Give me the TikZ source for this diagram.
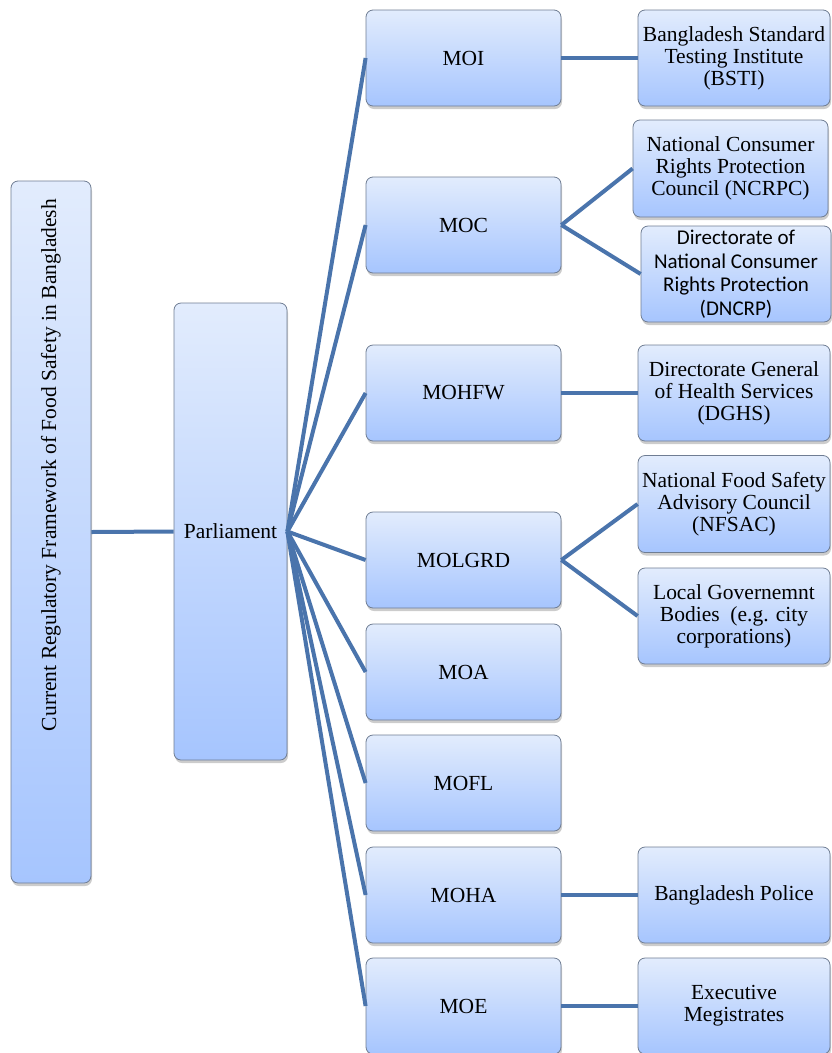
\documentclass[tikz,border=0pt]{standalone}
\usepackage{fontspec}
\setmainfont{Liberation Serif}
\newfontfamily\calibrifont{Carlito}
\usetikzlibrary{shadows}
\definecolor{boxtop}{HTML}{E2ECFD}
\definecolor{boxbottom}{HTML}{A6C5FE}
\definecolor{boxedge}{HTML}{6F7D93}
\definecolor{linkblue}{HTML}{4A74AC}
\begin{document}
\begin{tikzpicture}[x=1pt,y=-1pt,
  box/.style={draw=boxedge,line width=0.8pt,rounded corners=7pt,
    top color=boxtop,bottom color=boxbottom,
    drop shadow={shadow xshift=1pt,shadow yshift=-3pt,opacity=0.4},
    align=center,inner sep=1pt,
    font=\fontsize{21.5}{22}\selectfont},
  ministry/.style={box,minimum width=195pt,minimum height=96pt},
  agency/.style={box,minimum width=192pt,minimum height=96pt},
  link/.style={linkblue,line width=4pt}]
  \useasboundingbox (0,0) rectangle (831,1053);
  \node[box,minimum width=80pt,minimum height=702pt] (frame) at (51,532)
    {\rotatebox{90}{\hspace*{134pt}Current Regulatory Framework of Food Safety in Bangladesh}};
  \node[box,minimum width=113pt,minimum height=457pt] (parl) at (230.5,531.5) {Parliament};
  \node[ministry] (moi) at (463.5,58) {MOI};
  \node[ministry] (moc) at (463.5,225) {MOC};
  \node[ministry] (mohfw) at (463.5,393) {MOHFW};
  \node[ministry] (molgrd) at (463.5,560) {MOLGRD};
  \node[ministry] (moa) at (463.5,672) {MOA};
  \node[ministry] (mofl) at (463.5,783) {MOFL};
  \node[ministry] (moha) at (463.5,895) {MOHA};
  \node[ministry] (moe) at (463.5,1006) {MOE};
  \node[agency] (bsti) at (734,58) {Bangladesh Standard\\Testing Institute\\(BSTI)};
  \node[agency,minimum width=195pt,minimum height=97pt] (ncrpc) at (730.5,168.5)
    {National Consumer\\Rights Protection\\Council (NCRPC)};
  \node[agency,minimum width=190pt,font=\calibrifont\fontsize{21}{23.5}\selectfont] (dncrp) at (736,274)
    {Directorate of\\National Consumer\\Rights Protection\\(DNCRP)};
  \node[agency] (dghs) at (734,393) {Directorate General\\of Health Services\\(DGHS)};
  \node[agency,minimum height=97pt] (nfsac) at (734,504) {National Food Safety\\Advisory Council\\(NFSAC)};
  \node[agency] (lgb) at (734,616) {Local Governemnt\\Bodies~ (e.g. city\\corporations)};
  \node[agency] (police) at (734,895) {Bangladesh Police};
  \node[agency] (magis) at (734,1006) {Executive\\Megistrates};
  \draw[link] (frame.east) -- (parl.west);
  \foreach \m in {moi,moc,mohfw,molgrd,moa,mofl,moha,moe}
    \draw[link] (parl.east) -- (\m.west);
  \draw[link] (moi.east) -- (bsti.west);
  \draw[link] (moc.east) -- (ncrpc.west);
  \draw[link] (moc.east) -- (dncrp.west);
  \draw[link] (mohfw.east) -- (dghs.west);
  \draw[link] (molgrd.east) -- (nfsac.west);
  \draw[link] (molgrd.east) -- (lgb.west);
  \draw[link] (moha.east) -- (police.west);
  \draw[link] (moe.east) -- (magis.west);
\end{tikzpicture}
\end{document}
